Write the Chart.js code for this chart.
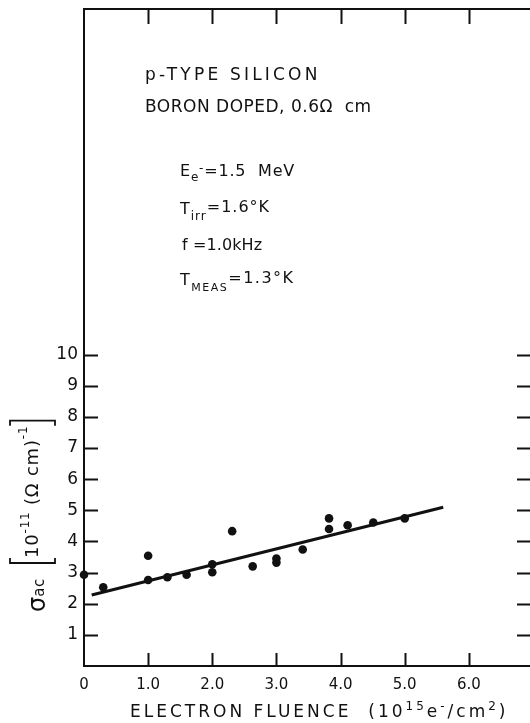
<!DOCTYPE html>
<html>
<head>
<meta charset="utf-8">
<style>
  html, body { margin: 0; padding: 0; background: #fff; overflow: hidden; }
  #wrap { width: 533px; height: 723px; }
</style>
<script src="https://cdn.jsdelivr.net/npm/chart.js@4.4.1/dist/chart.umd.min.js"></script>
</head>
<body>
<div id="wrap"><canvas id="chart"></canvas></div>
<script>
// measured ac conductivity vs. electron fluence
const fluence = [0, 0.30, 1.0, 1.0, 1.30, 1.60, 2.0, 2.0, 2.31, 2.63, 3.0, 3.0, 3.41, 3.82, 3.82, 4.11, 4.51, 5.0];
const sigma = [2.93, 2.53, 3.54, 2.76, 2.85, 2.93, 3.27, 3.01, 4.33, 3.20, 3.45, 3.32, 3.74, 4.74, 4.40, 4.52, 4.61, 4.74];

// straight-line fit through the points
const fitFluence = [0.12, 5.6];
const fitSigma = [2.28, 5.10];

const xTickValues = [0, 1, 2, 3, 4, 5, 6];
const xTickLabels = ['0', '1.0', '2.0', '3.0', '4.0', '5.0', '6.0'];
const yTickValues = [1, 2, 3, 4, 5, 6, 7, 8, 9, 10];
const yTickLabels = ['1', '2', '3', '4', '5', '6', '7', '8', '9', '10'];

const FONT = '"DejaVu Sans", sans-serif';
const INK = '#111';

// draw a run of text pieces: [text, size, dy]
function drawRuns(ctx, x, y, runs, spacing) {
  ctx.letterSpacing = (spacing || 0) + 'px';
  runs.forEach(([t, size, dy]) => {
    ctx.font = size + 'px ' + FONT;
    ctx.fillText(t, x, y + (dy || 0));
    x += ctx.measureText(t).width;
  });
  return x;
}

const frameAndTicks = {
  id: 'frameAndTicks',
  afterDatasetsDraw(chart) {
    const { ctx, chartArea: a, scales: { x, y } } = chart;
    ctx.save();
    ctx.strokeStyle = INK;
    ctx.lineWidth = 2;
    ctx.strokeRect(a.left, a.top, a.right - a.left, a.bottom - a.top);
    ctx.beginPath();
    xTickValues.forEach(v => {
      if (v === 0) return;
      const px = Math.round(x.getPixelForValue(v)) + 0.5;
      ctx.moveTo(px, a.bottom); ctx.lineTo(px, a.bottom - 13);
      ctx.moveTo(px, a.top); ctx.lineTo(px, a.top + 15);
    });
    yTickValues.forEach(v => {
      const py = Math.round(y.getPixelForValue(v)) + 0.5;
      ctx.moveTo(a.left, py); ctx.lineTo(a.left + 14, py);
      ctx.moveTo(a.right, py); ctx.lineTo(a.right - 16, py);
    });
    ctx.stroke();
    ctx.restore();
  }
};

const labels = {
  id: 'labels',
  afterDraw(chart) {
    const { ctx } = chart;
    ctx.save();
    ctx.fillStyle = INK;
    ctx.textBaseline = 'alphabetic';
    ctx.textAlign = 'left';

    // sample notes
    drawRuns(ctx, 145, 80, [['p-TYPE SILICON', 17]], 3.2);
    drawRuns(ctx, 145, 112, [['BORON DOPED, 0.6Ω  cm', 17]], 0.5);
    drawRuns(ctx, 180, 176, [['E', 16], ['e', 12, 5], ['-', 12, -4], ['=1.5  MeV', 16]], 0.8);
    drawRuns(ctx, 180, 214, [['T', 16], ['irr', 12, 6], ['=1.6°K', 16, -2]], 1.0);
    drawRuns(ctx, 182, 250, [['f =1.0kHz', 16]], 0.1);
    drawRuns(ctx, 180, 285, [['T', 16], ['MEAS', 11, 6], ['=1.3°K', 16, -2]], 1.5);

    // x axis title
    const xRuns = [['ELECTRON FLUENCE  (10', 17], ['15', 12, -7], ['e', 17], ['-', 12, -7], ['/cm', 17], ['2', 12, -7], [')', 17]];
    drawRuns(ctx, 130, 717, xRuns, 3.0);

    // y axis title, rotated
    ctx.save();
    ctx.translate(45, 612);
    ctx.rotate(-Math.PI / 2);
    let p = drawRuns(ctx, 0, 0, [['σ', 24]], 0);
    drawRuns(ctx, p, -1, [['ac', 15]], 0.5);
    // square brackets around the unit
    ctx.letterSpacing = '0px';
    ctx.strokeStyle = INK;
    ctx.lineWidth = 1.8;
    const b0 = 49, bTop = -35, bBot = 10;
    ctx.beginPath();
    ctx.moveTo(b0 + 5, bTop); ctx.lineTo(b0, bTop); ctx.lineTo(b0, bBot); ctx.lineTo(b0 + 5, bBot);
    ctx.stroke();
    p = drawRuns(ctx, b0 + 5, -7, [['10', 18], ['-11', 12, -9], [' (Ω cm)', 18], ['-1', 12, -11]], 0.8);
    const b1 = p + 5;
    ctx.beginPath();
    ctx.moveTo(b1 - 5, bTop); ctx.lineTo(b1, bTop); ctx.lineTo(b1, bBot); ctx.lineTo(b1 - 5, bBot);
    ctx.stroke();
    ctx.restore();

    ctx.restore();
  }
};

new Chart(document.getElementById('chart'), {
  data: {
    datasets: [
      {
        type: 'scatter',
        data: fluence.map((f, i) => ({ x: f, y: sigma[i] })),
        backgroundColor: INK,
        borderColor: INK,
        borderWidth: 0,
        pointRadius: 4.3,
        clip: false
      },
      {
        type: 'line',
        data: fitFluence.map((f, i) => ({ x: f, y: fitSigma[i] })),
        borderColor: INK,
        borderWidth: 3,
        pointRadius: 0,
        fill: false
      }
    ]
  },
  options: {
    responsive: true,
    maintainAspectRatio: false,
    animation: false,
    events: [],
    layout: { autoPadding: false, padding: { top: 9, right: 0, left: 0, bottom: 0 } },
    plugins: { legend: { display: false }, tooltip: { enabled: false } },
    scales: {
      x: {
        type: 'linear',
        min: 0,
        max: 7,
        grid: { display: false, drawTicks: false },
        border: { display: false },
        afterBuildTicks: s => { s.ticks = xTickValues.map(v => ({ value: v })); },
        afterFit: s => { s.height = 57; s.paddingLeft = 0; s.paddingRight = 0; },
        ticks: {
          color: INK,
          padding: 10,
          maxRotation: 0,
          autoSkip: false,
          font: { family: FONT, size: 15 },
          callback: v => xTickLabels[xTickValues.indexOf(v)]
        }
      },
      y: {
        type: 'linear',
        min: 0,
        max: 21.1,
        grid: { display: false, drawTicks: false },
        border: { display: false },
        afterBuildTicks: s => { s.ticks = yTickValues.map(v => ({ value: v })); },
        afterFit: s => { s.width = 84; s.paddingTop = 0; s.paddingBottom = 0; },
        ticks: {
          color: INK,
          padding: 6,
          autoSkip: false,
          font: { family: FONT, size: 17 },
          callback: v => yTickLabels[yTickValues.indexOf(v)]
        }
      }
    }
  },
  plugins: [frameAndTicks, labels]
});
</script>
</body>
</html>
